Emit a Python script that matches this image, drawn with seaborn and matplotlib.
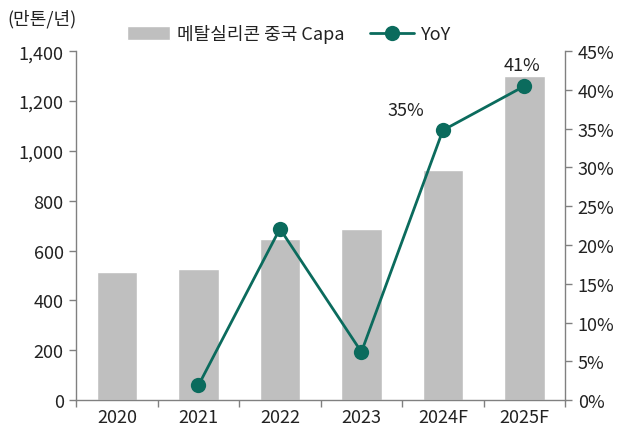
import pandas as pd
import matplotlib
matplotlib.use("Agg")
import matplotlib.pyplot as plt
import seaborn as sns
from matplotlib.ticker import FuncFormatter, FixedLocator

sns.set_theme(style="white")
plt.rcParams["font.family"] = ["Noto Sans CJK KR", "DejaVu Sans"]

years = ["2020", "2021", "2022", "2023", "2024F", "2025F"]
capa = [515, 526, 645, 685, 923, 1300]
yoy = [None, 1.9, 22.1, 6.2, 34.8, 40.5]
yoy_labels = {4: "35%", 5: "41%"}

BAR = "#bfbfbf"
LINE = "#0b6b5d"
GREY = "#808080"
TXT = "#222222"

df = pd.DataFrame({"year": years, "capa": capa, "yoy": yoy})
df["pos"] = range(len(df))

fig = plt.figure(figsize=(6.35, 4.35), dpi=100)
ax = fig.add_axes([0.12, 0.078, 0.77, 0.802])

sns.barplot(data=df, x="year", y="capa", color=BAR, width=0.5, ax=ax,
            saturation=1, label="메탈실리콘 중국 Capa")
ax.set_ylim(0, 1400)
ax.set_xlim(-0.5, 5.5)
ax.set_yticks(range(0, 1401, 200))
ax.yaxis.set_major_formatter(FuncFormatter(lambda v, p: f"{int(v):,}"))
ax.set_xlabel("")
ax.set_ylabel("")

ax2 = ax.twinx()
line_df = df.dropna(subset=["yoy"])
sns.lineplot(data=line_df, x="pos", y="yoy", color=LINE, lw=2, marker="o",
             markersize=11, markeredgewidth=0, ax=ax2, label="YoY")
ax2.set_ylim(0, 45)
ax2.set_yticks(range(0, 46, 5))
ax2.yaxis.set_major_formatter(FuncFormatter(lambda v, p: f"{int(v)}%"))
ax2.set_xlim(-0.5, 5.5)
ax2.set_xlabel("")
ax2.set_ylabel("")

# data labels for the last two points
for i, t in yoy_labels.items():
    dx = -0.45 if i == 4 else -0.03
    ax2.text(i + dx, yoy[i] + 1.5, t, ha="center", va="bottom", fontsize=13, color=TXT)

for a in (ax, ax2):
    for s in a.spines.values():
        s.set_visible(False)
    a.tick_params(colors=GREY, labelcolor=TXT, labelsize=13, width=1, length=5)
ax.spines["left"].set_visible(True)
ax.spines["bottom"].set_visible(True)
ax2.spines["right"].set_visible(True)
for s in (ax.spines["left"], ax.spines["bottom"], ax2.spines["right"]):
    s.set_color(GREY)
    s.set_linewidth(1)

ax.tick_params(axis="x", which="major", length=0, pad=6)
ax.xaxis.set_minor_locator(FixedLocator([i - 0.5 for i in range(7)]))
ax.tick_params(axis="x", which="minor", bottom=True, length=5, color=GREY, width=1)
ax.tick_params(axis="y", left=True, pad=4)
ax2.tick_params(axis="y", right=True, pad=4)

h1, l1 = ax.get_legend_handles_labels()
h2, l2 = ax2.get_legend_handles_labels()
if ax2.get_legend():
    ax2.get_legend().remove()
if ax.get_legend():
    ax.get_legend().remove()
fig.legend(h1 + h2, l1 + l2, loc="center", bbox_to_anchor=(0.455, 0.92), ncol=2,
           frameon=False, fontsize=13, handlelength=2.4, handleheight=0.8,
           handletextpad=0.4, columnspacing=1.4, labelcolor=TXT)

fig.text(0.012, 0.955, "(만톤/년)", fontsize=13, color=TXT, va="center")

fig.savefig("out.png", dpi=100)
